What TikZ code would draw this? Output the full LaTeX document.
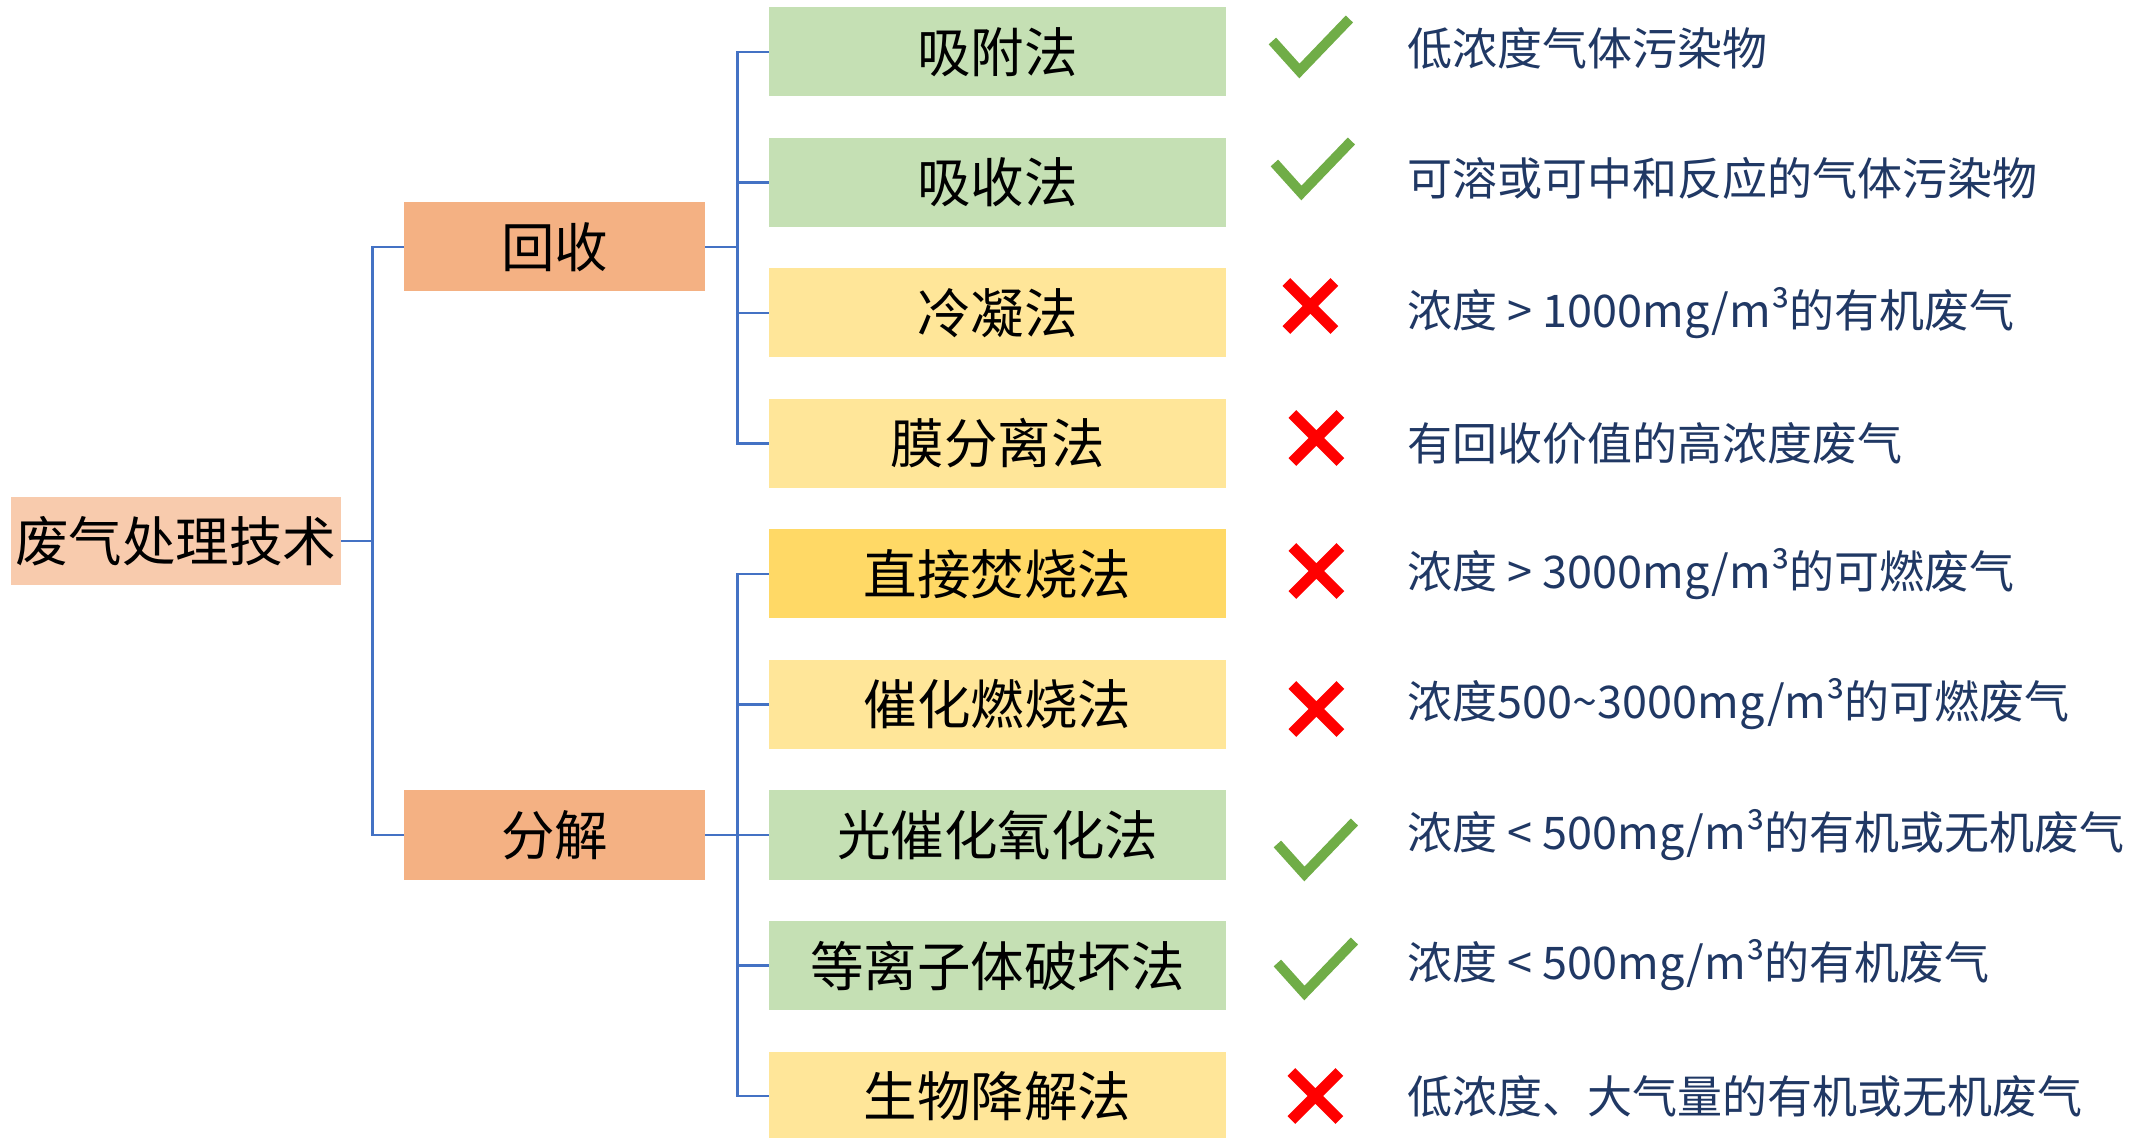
\documentclass[tikz,border=0pt]{standalone}
\usepackage{fontspec}
\setmainfont{Noto Sans CJK SC}
\usepackage{xcolor}
\definecolor{colorRoot}{HTML}{F8CBAD}
\definecolor{colorGroup}{HTML}{F4B183}
\definecolor{colorGood}{HTML}{C5E0B4}
\definecolor{colorBad}{HTML}{FFE699}
\definecolor{colorBurn}{HTML}{FFD966}
\definecolor{colorLink}{HTML}{4472C4}
\definecolor{colorText}{HTML}{203864}
\definecolor{colorOk}{HTML}{70AD47}
\definecolor{colorNo}{HTML}{FF0000}
\usetikzlibrary{positioning}
\newcommand{\gtsign}{\hspace{0.22em}>\hspace{0.22em}}
\newcommand{\ltsign}{\hspace{0.22em}<\hspace{0.22em}}
\tikzset{
  box/.style={inner sep=0pt, font=\fontsize{26.75}{30}\selectfont},
  method/.style={box, minimum width=228.5pt, minimum height=44.5pt},
  desc/.style={inner sep=0pt, text=colorText, font=\fontsize{22.5}{26}\selectfont},
  link/.style={colorLink, line width=1.4pt},
  ok/.pic={\draw[colorOk, line width=5pt] (-27,-30) -- (0,0) -- (50,-52);},
  no/.pic={\draw[colorNo, line width=5.5pt] (-24,-24) -- (24,24) (-24,24) -- (24,-24);}
}

\begin{document}
\begin{tikzpicture}[x=0.5pt, y=-0.5pt, node distance=65.25pt]
\useasboundingbox (0,0) rectangle (2154,1138);
\node[box, fill=colorRoot, minimum width=165pt, minimum height=44pt] (root) at (176,541) {废气处理技术};
\node[box, fill=colorGroup, minimum width=150.5pt, minimum height=44.5pt] (hs) at (554.5,247) {回收};
\node[box, fill=colorGroup, minimum width=150.5pt, minimum height=44.5pt] (fj) at (554.5,835) {分解};
\node[method, fill=colorGood] (m1) at (997.5,52) {吸附法};
\node[method, fill=colorGood, below of=m1] (m2) {吸收法};
\node[method, fill=colorBad, below of=m2] (m3) {冷凝法};
\node[method, fill=colorBad, below of=m3] (m4) {膜分离法};
\node[method, fill=colorBurn, below of=m4] (m5) {直接焚烧法};
\node[method, fill=colorBad, below of=m5] (m6) {催化燃烧法};
\node[method, fill=colorGood, below of=m6] (m7) {光催化氧化法};
\node[method, fill=colorGood, below of=m7] (m8) {等离子体破坏法};
\node[method, fill=colorBad, below of=m8] (m9) {生物降解法};
\node[desc, right=90.5pt of m1, yshift=2pt] (d1) {低浓度气体污染物};
\node[desc, right=90.5pt of m2, yshift=2pt] (d2) {可溶或可中和反应的气体污染物};
\node[desc, right=90.5pt of m3] (d3) {浓度\gtsign 1000mg/m³的有机废气};
\node[desc, right=90.5pt of m4] (d4) {有回收价值的高浓度废气};
\node[desc, right=90.5pt of m5] (d5) {浓度\gtsign 3000mg/m³的可燃废气};
\node[desc, right=90.5pt of m6] (d6) {浓度500\textasciitilde3000mg/m³的可燃废气};
\node[desc, right=90.5pt of m7] (d7) {浓度\ltsign 500mg/m³的有机或无机废气};
\node[desc, right=90.5pt of m8] (d8) {浓度\ltsign 500mg/m³的有机废气};
\node[desc, right=90.5pt of m9] (d9) {低浓度、大气量的有机或无机废气};
\draw[link] (root.east) -- ++(31,0) |- (hs.west);
\draw[link] (root.east) -- ++(31,0) |- (fj.west);
\foreach \i in {1,...,4} \draw[link] (hs.east) -- ++(32,0) |- (m\i.west);
\foreach \i in {5,...,9} \draw[link] (fj.east) -- ++(32,0) |- (m\i.west);
\pic at ([shift={(73,19)}]m1.east) {ok};
\pic at ([shift={(75,10.5)}]m2.east) {ok};
\pic at ([shift={(84,-7)}]m3.east) {no};
\pic at ([shift={(90,-5.5)}]m4.east) {no};
\pic at ([shift={(90,-3)}]m5.east) {no};
\pic at ([shift={(90,4.5)}]m6.east) {no};
\pic at ([shift={(78,39)}]m7.east) {ok};
\pic at ([shift={(78,27.5)}]m8.east) {ok};
\pic at ([shift={(89,0)}]m9.east) {no};
\end{tikzpicture}
\end{document}
